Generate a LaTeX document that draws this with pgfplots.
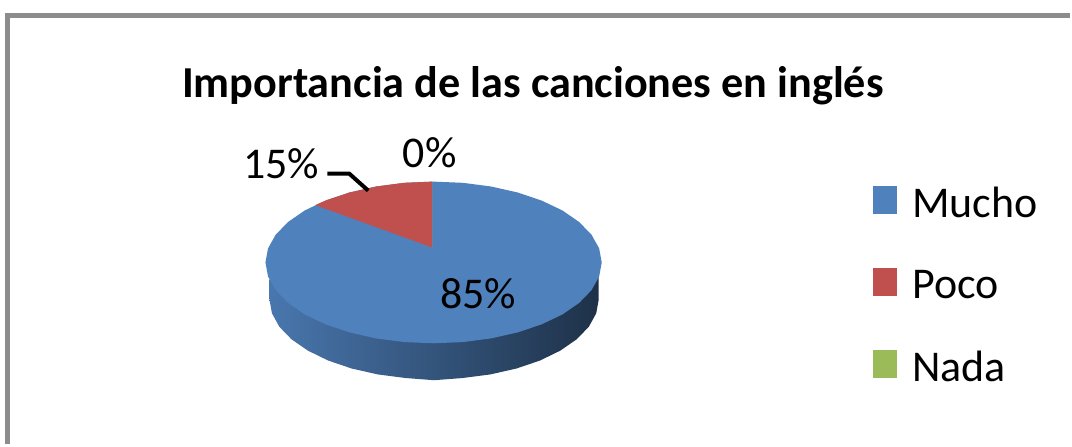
\documentclass[border=0pt]{standalone}
\usepackage{fontspec}
\setmainfont{Carlito}
\usepackage{pgfplots}
\pgfplotsset{compat=1.18}
\definecolor{cblue}{HTML}{4F81BD}
\definecolor{cred}{HTML}{C0504D}
\definecolor{cgreen}{HTML}{9BBB59}
\definecolor{cframe}{HTML}{8C8C8C}
\begin{document}
\begin{tikzpicture}[x=1pt,y=1pt]
\begin{axis}[
  at={(0,0)}, anchor=south west,
  scale only axis, width=1072pt, height=445pt,
  xmin=0, xmax=1072, ymin=0, ymax=445, y dir=reverse,
  hide axis, clip=false,
  legend style={at={(axis cs:875,185.5)}, anchor=north west, draw=none, fill=none,
    font=\fontsize{44}{49}\selectfont, row sep=47pt, column sep=13pt, inner sep=0pt},
  legend cell align=left,
  legend image code/.code={\path[#1,draw=none] (0pt,-10.5pt) rectangle (24pt,17.5pt);},
]
% background and frame
\addplot[fill=white, draw=none, forget plot] coordinates {(0,0) (1072,0) (1072,445) (0,445)} -- cycle;
\addplot[cframe, line width=4.5pt, forget plot] coordinates {(7.5,445) (7.5,15.7) (1072,15.7)};
% pie side
\addplot[left color=cblue!92!black, middle color=cblue!62!black, right color=cblue!38!black, draw=none, forget plot] coordinates {
 (600,277) (600,300) (597.5,313.9) (590.1,327.4) (577.9,340) (561.4,351.4) (541.1,361.3) (517.5,369.3) (491.4,375.2)
 (463.7,378.8) (435,381) (406.3,378.8) (378.6,375.2) (352.5,369.3) (328.9,361.3) (308.6,351.4) (292.1,340) (279.9,327.4)
 (272.5,313.9) (270,300) (270,280)} -- cycle;
% top face, Mucho 85%
\addplot[fill=cblue, draw=none] coordinates {
 (603,263) (600.4,248.9) (592.8,235.3) (580.4,222.5) (563.6,210.9) (542.8,201) (518.8,192.9) (492.1,186.9) (463.8,183.2)
 (434.5,182) (405.2,183.2) (376.9,186.9) (350.2,192.9) (326.2,201) (305.4,210.9) (288.6,222.5) (276.2,235.3) (268.6,248.9)
 (266,263) (268.6,277.1) (276.2,290.7) (288.6,303.5) (305.4,315.1) (326.2,325) (350.2,333.1) (376.9,339.1) (405.2,342.8)
 (434.5,344) (463.8,342.8) (492.1,339.1) (518.8,333.1) (542.8,325) (563.6,315.1) (580.4,303.5) (592.8,290.7) (600.4,277.1)} -- cycle;
\addlegendentry{Mucho}
% Poco 15%
\addplot[fill=cred, draw=none] coordinates {
 (433,248) (433,182) (405.2,183.2) (376.9,186.9) (350.2,192.9) (326.2,201) (316,205.5)} -- cycle;
\addlegendentry{Poco}
% Nada 0%
\addplot[fill=cgreen, draw=none] coordinates {(433,248) (433,182) (433,248)} -- cycle;
\addlegendentry{Nada}
% leader line
\addplot[black, line width=4pt, forget plot] coordinates {(328,174) (350,174) (369,191)};
\node[anchor=base, font=\fontsize{44}{49}\selectfont] at (axis cs:282,178.5) {15\%};
\node[anchor=base, font=\fontsize{44}{49}\selectfont] at (axis cs:430.5,168) {0\%};
\node[anchor=base, font=\fontsize{44}{49}\selectfont] at (axis cs:479,309) {85\%};
\node[anchor=base, font=\bfseries\fontsize{44.3}{50}\selectfont] at (axis cs:534,98) {Importancia de las canciones en inglés};
\end{axis}
\end{tikzpicture}
\end{document}
